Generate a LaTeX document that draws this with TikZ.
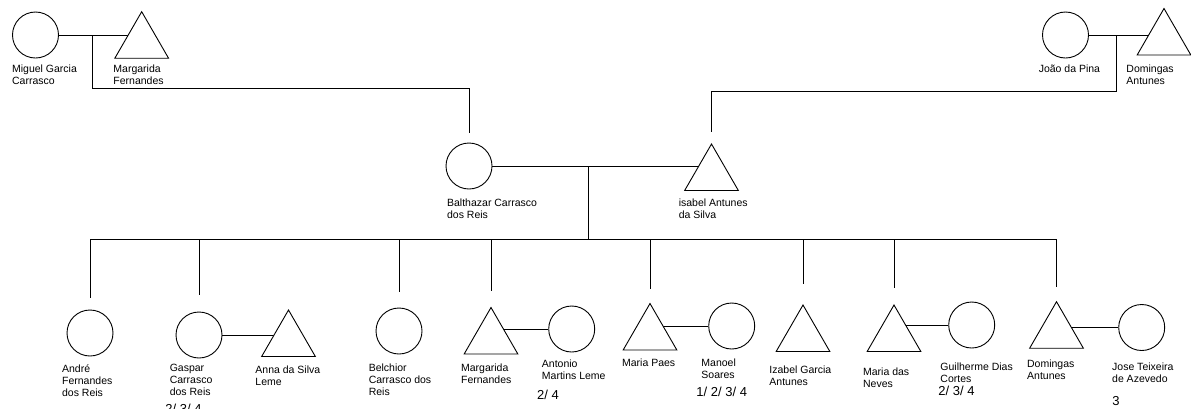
\documentclass[tikz,border=0pt]{standalone}
\usepackage{fontspec}
\setmainfont{Liberation Sans}
\usetikzlibrary{shapes.geometric,backgrounds,calc}
\tikzstyle{man} = [draw,circle,fill=white,minimum size=46,inner sep=0]
\tikzstyle{woman} = [draw,regular polygon,regular polygon sides=3,fill=white,minimum size=62,inner sep=0]
\tikzstyle{lbl} = [anchor=north west,align=left,inner sep=0,font=\fontsize{10.5}{12}\selectfont]
\tikzstyle{numlbl} = [anchor=north west,inner sep=0,font=\fontsize{13}{15}\selectfont]

\begin{document}
\begin{tikzpicture}[x=1pt,y=-1pt,line width=0.9pt]
	\useasboundingbox (0,0) rectangle (1191,408);

	% define constants
	\def \sib {239}

	% grandparents
	\node[man] (miguel) at (35.5,35) {};
	\node[woman] (margA) at (141.7,42.7) {};
	\node[man] (joao) at (1065.5,35) {};
	\node[woman] (domA) at (1164,39.5) {};

	% parents
	\node[man] (balt) at (469,166) {};
	\node[woman] (isab) at (711.5,175) {};

	% children and their spouses
	\node[man] (andre) at (90,333) {};
	\node[man] (gasp) at (199,335) {};
	\node[woman] (anna) at (288.5,341) {};
	\node[man] (belc) at (399,331) {};
	\node[woman] (margB) at (491,338.5) {};
	\node[man] (anto) at (571.7,329) {};
	\node[woman] (mpaes) at (650,334.5) {};
	\node[man] (mano) at (731.7,326) {};
	\node[woman] (izab) at (803,336) {};
	\node[woman] (neves) at (894,336) {};
	\node[man] (guil) at (971.7,325) {};
	\node[woman] (domB) at (1056.5,332.7) {};
	\node[man] (jose) at (1141.7,327.5) {};

	\coordinate (c1) at (92,35);
	\coordinate (c2) at (1116,35);
	\coordinate (c3) at (588,166);
	\coordinate (s) at (0,\sib);

	% Draw the lines
	\begin{scope}[on background layer]
		\draw (miguel.east) -- (miguel.east -| margA.center);
		\draw (joao.east) -- (joao.east -| domA.center);
		\draw (c1) -- ++(0,53) -| ($(balt.north)+(0,-10)$);
		\draw (c2) -- ++(0,56) -| ($(isab.north)+(0,-11)$);
		\draw (balt.east) -- (balt.east -| isab.center);
		\draw (c3) -- (c3 |- s);
		\draw (andre |- s) -- (domB |- s);
		\foreach \k/\g in {andre/12,gasp/17,belc/16,margB/16,mpaes/14,izab/20,neves/16,domB/14}
			\draw (\k |- s) -- ($(\k.north)+(0,-\g)$);
		\draw (gasp.east) -- (gasp.east -| anna.center);
		\draw (anto.west) -- (anto.west -| margB.center);
		\draw (mano.west) -- (mano.west -| mpaes.center);
		\draw (guil.west) -- (guil.west -| neves.center);
		\draw (jose.west) -- (jose.west -| domB.center);
	\end{scope}

	% names
	\node[lbl] (lmiguel) at (11.7,64.5) {Miguel Garcia\\Carrasco};
	\node[lbl,fill=white,text width=68,inner ysep=3] (lmargA) at (113,61.5) {Margarida\\Fernandes};
	\node[lbl] (ljoao) at (1038.3,64.5) {João da Pina};
	\node[lbl] (ldomA) at (1126,64.5) {Domingas\\Antunes};
	\node[lbl] (lbalt) at (446.7,198) {Balthazar Carrasco\\dos Reis};
	\node[lbl] (lisab) at (678.3,198) {isabel Antunes\\da Silva};
	\node[lbl] (landre) at (61.7,364.5) {André\\Fernandes\\dos Reis};
	\node[lbl] (lgasp) at (169.3,363.5) {Gaspar\\Carrasco\\dos Reis};
	\node[numlbl] (ngasp) at (165,404) {2/ 3/ 4};
	\node[lbl] (lanna) at (255,365.5) {Anna da Silva\\Leme};
	\node[lbl] (lbelc) at (368.3,363.5) {Belchior\\Carrasco dos\\Reis};
	\node[lbl] (lmargB) at (460.7,363.5) {Margarida\\Fernandes};
	\node[lbl] (lanto) at (541.5,359) {Antonio\\Martins Leme};
	\node[numlbl] (nanto) at (536.7,390) {2/ 4};
	\node[lbl] (lmpaes) at (621.7,358) {Maria Paes};
	\node[lbl] (lmano) at (701,358) {Manoel\\Soares};
	\node[numlbl] (nmano) at (696,386.7) {1/ 2/ 3/ 4};
	\node[lbl] (lizab) at (769,365.5) {Izabel Garcia\\Antunes};
	\node[lbl] (lneves) at (862.7,367) {Maria das\\Neves};
	\node[lbl] (lguil) at (940,362.5) {Guilherme Dias\\Cortes};
	\node[numlbl] (nguil) at (938,386) {2/ 3/ 4};
	\node[lbl] (ldomB) at (1026.7,359) {Domingas\\Antunes};
	\node[lbl] (ljose) at (1111.7,362.5) {Jose Teixeira\\de Azevedo};
	\node[numlbl] (njose) at (1112,396) {3};
\end{tikzpicture}
\end{document}
